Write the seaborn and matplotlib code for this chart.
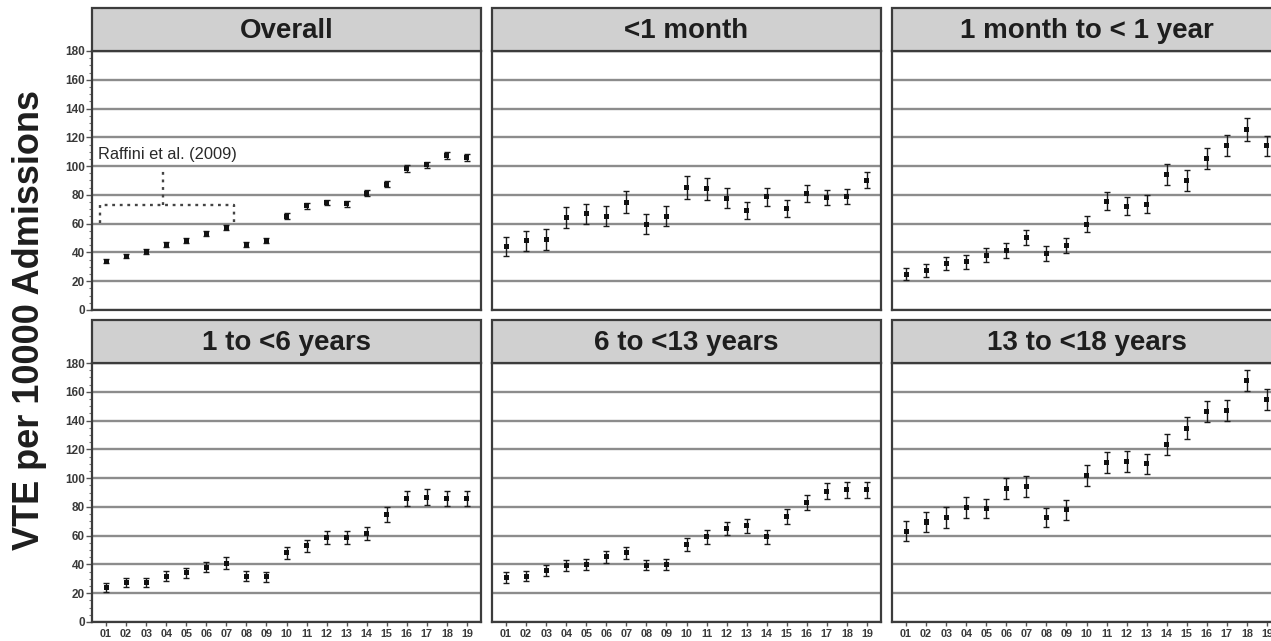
import matplotlib
matplotlib.use("Agg")
import matplotlib.pyplot as plt
import numpy as np
import pandas as pd
import seaborn as sns
from matplotlib.patches import Rectangle
from matplotlib.ticker import MultipleLocator

# Fiscal years 2001-2019
years = ["01", "02", "03", "04", "05", "06", "07", "08", "09", "10",
         "11", "12", "13", "14", "15", "16", "17", "18", "19"]

groups = ["Overall", "<1 month", "1 month to < 1 year",
          "1 to <6 years", "6 to <13 years", "13 to <18 years"]

# VTE rate per 10000 admissions and half-width of the 95% CI
overall = [34.0, 37.5, 40.5, 45.6, 48.1, 53.0, 57.4, 45.6, 48.1, 65.3,
           72.4, 74.7, 73.8, 81.0, 87.5, 98.3, 101.0, 107.4, 106.0]
overall_ci = [1.6, 1.6, 1.6, 1.7, 1.7, 1.8, 1.8, 1.7, 1.7, 1.9,
              2.0, 2.0, 2.0, 2.1, 2.1, 2.2, 2.2, 2.3, 2.3]

neonate = [44.0, 48.1, 49.0, 64.1, 66.9, 65.3, 75.0, 59.7, 65.3, 84.9,
           84.2, 77.8, 69.0, 78.7, 70.6, 81.0, 78.2, 78.7, 90.2]
neonate_ci = [6.5, 7.0, 7.0, 7.3, 7.0, 7.0, 7.5, 6.7, 7.0, 8.0,
              7.5, 7.2, 6.0, 6.2, 5.8, 5.8, 5.2, 5.2, 5.4]

infant = [25.0, 27.5, 32.4, 33.6, 38.2, 41.2, 50.4, 39.3, 45.1, 59.7,
          75.7, 72.2, 73.6, 94.4, 90.2, 105.3, 114.5, 125.4, 114.0]
infant_ci = [4.3, 4.6, 4.6, 4.9, 4.9, 5.2, 5.5, 4.9, 5.2, 5.7,
             6.2, 6.5, 6.4, 7.2, 7.2, 7.5, 7.2, 8.0, 7.2]

young_child = [24.1, 27.6, 27.6, 31.7, 34.1, 38.2, 41.0, 31.7, 31.3, 48.0,
               53.0, 58.9, 58.4, 61.2, 74.6, 85.5, 86.7, 85.5, 85.5]
young_child_ci = [3.2, 3.2, 3.2, 3.5, 3.5, 3.7, 4.0, 3.5, 3.5, 4.2,
                  4.3, 4.5, 4.5, 4.5, 5.0, 5.2, 5.5, 5.2, 5.2]

child = [31.0, 31.7, 35.7, 39.2, 39.9, 45.2, 48.0, 39.6, 39.9, 53.8,
         59.1, 64.9, 66.9, 59.1, 73.4, 83.2, 90.8, 92.0, 92.0]
child_ci = [3.7, 3.5, 3.7, 3.8, 3.8, 4.0, 4.2, 3.8, 3.8, 4.5,
            4.7, 4.7, 4.7, 4.6, 5.0, 5.3, 5.5, 5.5, 5.5]

adolescent = [63.0, 69.5, 72.7, 79.7, 78.8, 92.7, 94.3, 72.7, 78.0, 101.7,
              111.0, 111.6, 110.0, 123.2, 134.8, 146.4, 147.1, 167.7, 154.5]
adolescent_ci = [7.0, 7.0, 7.2, 7.2, 6.8, 7.3, 7.5, 6.6, 7.0, 7.2,
                 7.3, 7.4, 7.0, 7.3, 7.5, 7.3, 7.3, 7.5, 7.2]

series = [(overall, overall_ci), (neonate, neonate_ci), (infant, infant_ci),
          (young_child, young_child_ci), (child, child_ci),
          (adolescent, adolescent_ci)]

records = []
for grp, (vals, cis) in zip(groups, series):
    for i, (v, c) in enumerate(zip(vals, cis)):
        records.append({"group": grp, "year": i + 1, "rate": v, "ci": c})
df = pd.DataFrame(records)

sns.set_theme(style="white")
plt.rcParams["font.family"] = ["Liberation Sans", "DejaVu Sans"]
plt.rcParams["font.weight"] = "bold"

g = sns.FacetGrid(df, col="group", col_wrap=3, col_order=groups,
                  sharex=True, sharey=True, height=2.6, aspect=1.5,
                  despine=False)


def draw_rates(data, **kws):
    ax = plt.gca()
    ax.errorbar(data["year"], data["rate"], yerr=data["ci"], fmt="none",
                ecolor="#1a1a1a", elinewidth=1.0, capsize=2.2,
                capthick=1.0, zorder=3)
    sns.scatterplot(data=data, x="year", y="rate", marker="s", s=13,
                    color="#111111", edgecolor="none", ax=ax, zorder=4)


g.map_dataframe(draw_rates)
g.set_titles("")
g.set_axis_labels("", "")

fig = g.figure
fig.set_size_inches(12.71, 6.41)
W, H = 1271.0, 641.0
col_x = [92, 492, 892]
row_y = [(51, 310), (363, 622)]
pw = 389

frame_col = "#3c3c3c"
for k, (ax, grp) in enumerate(zip(g.axes.flat, groups)):
    r, c = divmod(k, 3)
    top, bot = row_y[r]
    ax_h = bot - top
    ax.set_position([col_x[c] / W, 1 - bot / H, pw / W, ax_h / H])
    ax.set_xlim(0.3, 19.7)
    ax.set_ylim(0, 180)
    ax.set_xticks(range(1, 20))
    ax.set_yticks(range(0, 181, 20))
    ax.yaxis.set_minor_locator(MultipleLocator(5))
    ax.yaxis.grid(True, which="major", color="#8c8c8c", lw=1.7)
    ax.set_axisbelow(True)
    for sp in ax.spines.values():
        sp.set_color(frame_col)
        sp.set_linewidth(1.6)
    ax.set_xlabel("")
    ax.set_ylabel("")

    if c == 0:
        ax.tick_params(axis="y", which="major", left=True, length=4,
                       width=1.0, color="#555555", labelsize=8.5,
                       labelcolor="#3a3a3a", pad=1)
        ax.tick_params(axis="y", which="minor", left=True, length=2,
                       width=0.8, color="#777777")
    else:
        ax.tick_params(axis="y", which="both", left=False, labelleft=False)

    if r == 1:
        ax.set_xticklabels(years)
        ax.tick_params(axis="x", bottom=True, labelbottom=True, length=3,
                       width=1.0, color="#555555", labelsize=7.8,
                       labelcolor="#3a3a3a", pad=2)
    else:
        ax.tick_params(axis="x", bottom=False, labelbottom=False)

    # grey header strip with the panel title
    strip_h = 43.0 / ax_h
    ax.add_patch(Rectangle((0, 1), 1, strip_h, transform=ax.transAxes,
                           facecolor="#d0d0d0", edgecolor=frame_col,
                           lw=1.6, clip_on=False, zorder=5))
    ax.text(0.5, 1 + strip_h / 2 - 2.0 / ax_h, grp, transform=ax.transAxes,
            ha="center", va="center", fontsize=20, fontweight="bold",
            color="#1e1e1e", zorder=6)

# Earlier estimate (Raffini et al., 2001-2007) marked on the overall panel
ax0 = g.axes.flat[0]
dot = (0, (1.2, 2.0))
ax0.plot([0.7, 0.7, 7.4, 7.4], [60.5, 72.9, 72.9, 60.5], color="#444444",
         lw=1.7, ls=dot, zorder=2)
ax0.plot([3.85, 3.85], [72.9, 98.6], color="#444444", lw=1.7, ls=dot,
         zorder=2)
ax0.text(0.6, 108.3, "Raffini et al. (2009)", ha="left", va="center",
         fontsize=11.8, fontweight="normal", color="#2a2a2a", zorder=3)

fig.text(30 / W, 0.5, "VTE per 10000 Admissions", rotation=90,
         ha="center", va="center", fontsize=26, fontweight="bold",
         color="#1e1e1e")

fig.savefig("out.png", dpi=100, facecolor="white")
